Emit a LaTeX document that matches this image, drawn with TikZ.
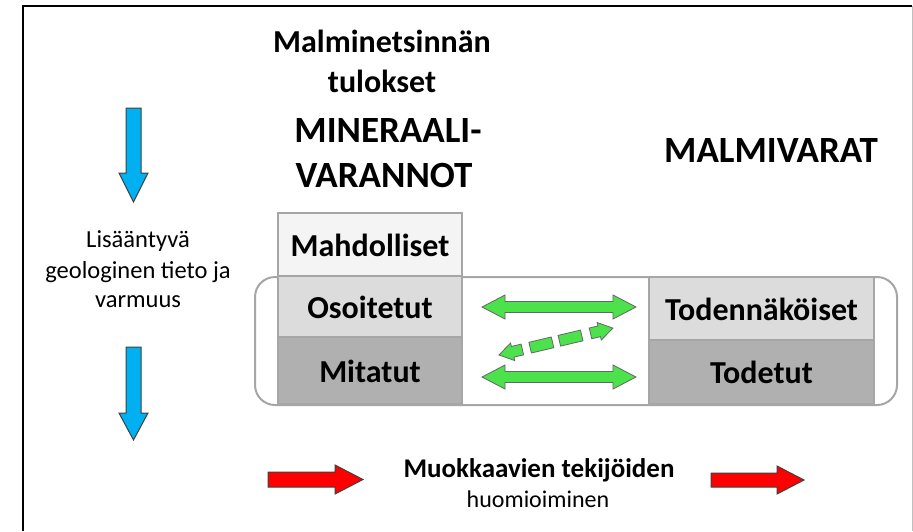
\documentclass[tikz,border=0pt]{standalone}
\usepackage{fontspec}
\setmainfont{Carlito}
\definecolor{boxgray}{HTML}{A6A6A6}
\definecolor{fillA}{HTML}{F4F4F4}
\definecolor{fillB}{HTML}{DCDCDC}
\definecolor{fillC}{HTML}{B0B0B0}
\definecolor{arrgreen}{HTML}{4CE24C}
\definecolor{arrblue}{HTML}{00B0F0}
\definecolor{arrred}{HTML}{FF0000}
\begin{document}
\begin{tikzpicture}[x=1pt,y=-1pt,
  box/.style={draw=boxgray, line width=1.5pt, inner sep=0pt,
    font=\fontsize{32}{38}\selectfont\bfseries, text height=23pt, text depth=0pt},
  titletext/.style={anchor=base, inner sep=0pt, font=\fontsize{32}{38}\selectfont\bfseries},
  bigtext/.style={anchor=base, inner sep=0pt, font=\fontsize{37}{44}\selectfont\bfseries},
  sidetext/.style={anchor=base, inner sep=0pt, font=\fontsize{24.5}{30}\selectfont},
  bottombold/.style={anchor=base, inner sep=0pt, font=\fontsize{27}{32}\selectfont\bfseries},
  bottomreg/.style={anchor=base, inner sep=0pt, font=\fontsize{24}{30}\selectfont},
  greenarrow/.style={fill=arrgreen, draw=black!60, line width=0.8pt, line join=miter},
  bluearrow/.style={fill=arrblue, draw=black!75, line width=1pt, line join=miter},
  redarrow/.style={fill=arrred, draw=black!75, line width=1pt, line join=miter},
  outerbox/.style={draw=boxgray, line width=2pt, fill=white, rounded corners=20pt}
]
\useasboundingbox (0,0) rectangle (913,531);
\fill[white] (0,0) rectangle (913,531);

% frame
\draw[black, line width=2pt] (23,531) -- (23,6) -- (912,6);
\draw[black!25, line width=1pt] (912,6) -- (912,531);

% titles
\node[titletext] (t1) at (382,52) {Malminetsinnän};
\node[titletext] (t2) at (382,92) {tulokset};
\node[bigtext] (mv1) at (388,142) {MINERAALI-};
\node[bigtext] (mv2) at (384,187) {VARANNOT};
\node[bigtext] (mal) at (771,162) {MALMIVARAT};

% left text
\node[sidetext] (s1) at (138,247) {Lisääntyvä};
\node[sidetext] (s2) at (138,278) {geologinen tieto ja};
\node[sidetext] (s3) at (138,307) {varmuus};

% blue arrows
\filldraw[bluearrow] (126,108) -- (141,108) -- (141,173) -- (148,173) -- (133.5,202) -- (119,173) -- (126,173) -- cycle;
\filldraw[bluearrow] (126,347) -- (141,347) -- (141,413) -- (148,413) -- (133.5,440) -- (119,413) -- (126,413) -- cycle;

% outer rounded frame
\draw[outerbox] (255,277) rectangle (897,405);

% boxes
\node[box, fill=fillA, minimum width=184pt, minimum height=63pt] (mahd) at (370,244.5) {Mahdolliset};
\node[box, fill=fillB, minimum width=184pt, minimum height=61pt] (osoi) at (370,306.5) {Osoitetut};
\node[box, fill=fillC, minimum width=184pt, minimum height=67pt] (mita) at (370,370.5) {Mitatut};
\node[box, fill=fillB, minimum width=225pt, minimum height=63pt] (tode) at (761.5,308.5) {Todennäköiset};
\node[box, fill=fillC, minimum width=225pt, minimum height=64pt] (todt) at (761.5,372) {Todetut};

% green double arrows
\filldraw[greenarrow] (482,307) -- (505,295) -- (505,301.5) -- (613,301.5) -- (613,295) -- (636,307) -- (613,319) -- (613,312.5) -- (505,312.5) -- (505,319) -- cycle;
\filldraw[greenarrow] (482,377) -- (505,365) -- (505,371.5) -- (613,371.5) -- (613,365) -- (636,377) -- (613,389) -- (613,382.5) -- (505,382.5) -- (505,389) -- cycle;

% dashed diagonal double arrow
\begin{scope}[shift={(499,355)}, rotate=13.3]
  \filldraw[greenarrow] (0,0) -- (14,-9) -- (14,-5.5) -- (24,-5.5) -- (24,5.5) -- (14,5.5) -- (14,9) -- cycle;
  \filldraw[greenarrow] (32,-5.5) rectangle (55,5.5);
  \filldraw[greenarrow] (62,-5.5) rectangle (85,5.5);
  \filldraw[greenarrow] (94,-5.5) -- (103,-5.5) -- (103,-9) -- (117,0) -- (103,9) -- (103,5.5) -- (94,5.5) -- cycle;
\end{scope}

% red arrows
\filldraw[redarrow] (268,472) -- (335,472) -- (335,465) -- (363,479.5) -- (335,494) -- (335,487) -- (268,487) -- cycle;
\filldraw[redarrow] (711,473) -- (777,473) -- (777,466) -- (804,480) -- (777,494) -- (777,487) -- (711,487) -- cycle;

% bottom text
\node[bottombold] (b1) at (539,477) {Muokkaavien tekijöiden};
\node[bottomreg] (b2) at (538,507) {huomioiminen};
\end{tikzpicture}
\end{document}
